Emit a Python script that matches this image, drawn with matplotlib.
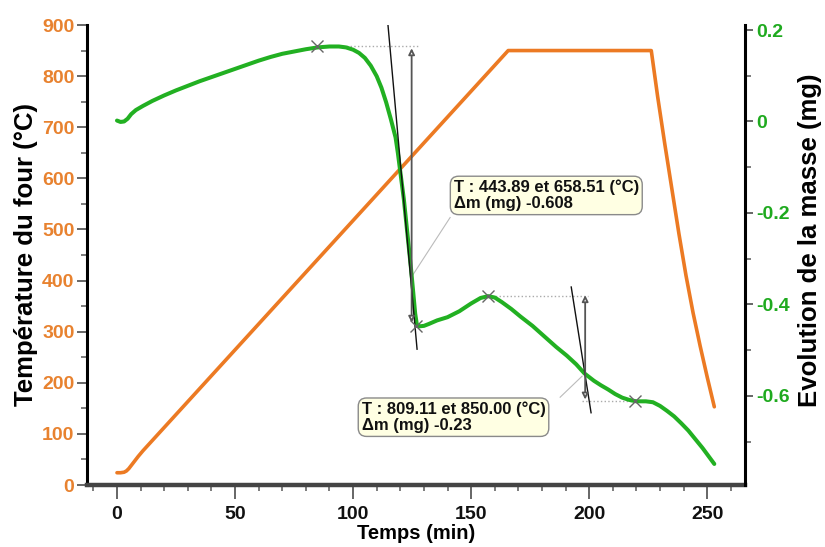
import matplotlib
matplotlib.use("Agg")
import matplotlib.pyplot as plt
from matplotlib.ticker import MultipleLocator

plt.rcParams['font.family'] = ['Liberation Sans', 'DejaVu Sans']
plt.rcParams['font.weight'] = 'bold'

# Temperature (furnace) curve
temp_t = [0, 1.5, 3, 4, 5, 6, 7.5, 9, 11, 165.7, 226.3, 229, 232, 235, 238, 241, 244,
          247, 250, 253]
temp_T = [24, 24, 25, 27.5, 32, 38, 47, 56, 67, 850, 850, 760, 668, 580, 492, 410, 337,
          272, 211, 153]

# Mass evolution curve
mass_t = [0, 1.5, 3, 4.5, 6, 8, 11, 15, 20, 25, 30, 35, 40, 45, 50, 55, 60, 65, 70, 75,
          80, 85, 90, 94, 97, 100, 102.5, 105, 107.5, 110, 112, 114, 116, 118, 119, 120,
          121.5, 123, 124.5, 125.5, 126.3, 127, 128, 130, 132, 135.6, 140, 145, 150, 154,
          157.2, 160, 163, 167, 171, 176, 181, 186, 190.5, 194.5, 198, 202, 205, 208,
          211, 214, 217, 220, 224, 227, 230, 233, 236, 239, 242, 245, 248, 251, 253]
mass_m = [0.002, -0.001, 0.0, 0.006, 0.016, 0.025, 0.034, 0.045, 0.057, 0.068, 0.078,
          0.088, 0.097, 0.106, 0.115, 0.124, 0.133, 0.141, 0.148, 0.153, 0.158, 0.162,
          0.164, 0.164, 0.162, 0.157, 0.150, 0.139, 0.122, 0.099, 0.074, 0.042, 0.005,
          -0.035, -0.07, -0.11, -0.17, -0.245, -0.32, -0.375, -0.42, -0.444, -0.448,
          -0.447, -0.443, -0.435, -0.428, -0.415, -0.398, -0.386, -0.382, -0.385, -0.395,
          -0.41, -0.427, -0.447, -0.47, -0.493, -0.512, -0.531, -0.551, -0.567, -0.577,
          -0.586, -0.596, -0.604, -0.609, -0.612, -0.612, -0.614, -0.622, -0.633, -0.645,
          -0.66, -0.676, -0.695, -0.714, -0.735, -0.749]

x_ticks = [0, 50, 100, 150, 200, 250]
left_ticks = [0, 100, 200, 300, 400, 500, 600, 700, 800, 900]
right_ticks = [-0.6, -0.4, -0.2, 0, 0.2]
right_labels = ['-0.6', '-0.4', '-0.2', '0', '0.2']

# Step annotations (mass axis coords)
tangent1 = ([114.8, 127.1], [0.21, -0.498])
arrow1 = (124.8, 0.16, -0.44)
cross1 = [(84.7, 0.164), (126.8, -0.447)]
dotted1 = ([84.7, 127.5], [0.164, 0.164])
conn1 = ([125.0, 141.1], [-0.338, -0.21])
label1 = "T : 443.89 et 658.51 (°C)\nΔm (mg) -0.608"
label1_xy = (142.6, -0.127)

tangent2 = ([192.4, 200.8], [-0.362, -0.637])
arrow2 = (198.3, -0.38, -0.608)
cross2 = [(157.2, -0.382), (219.6, -0.612)]
dotted2a = ([157.2, 199.5], [-0.382, -0.382])
dotted2b = ([197.0, 219.6], [-0.612, -0.612])
conn2 = ([197.0, 187.7], [-0.557, -0.603])
label2 = "T : 809.11 et 850.00 (°C)\nΔm (mg) -0.23"
label2_xy = (103.6, -0.612)

orange = '#EC7A23'
orange_lbl = '#E8822F'
green = '#22B022'
green_lbl = '#1FAA1F'

fig = plt.figure(figsize=(8.25, 5.47), dpi=100)
ax1 = fig.add_axes([87/825, 1-485/547, (745-87)/825, (485-25)/547])
ax2 = ax1.twinx()

ax1.plot(temp_t, temp_T, color=orange, lw=2.6, solid_capstyle='round',
         solid_joinstyle='round', zorder=3)
ax2.plot(mass_t, mass_m, color=green, lw=2.9, solid_capstyle='round',
         solid_joinstyle='round', zorder=3)

ax1.set_xlim(-12.7, 266)
ax1.set_ylim(0, 900)
ax2.set_ylim(-0.795, 0.211)

ax1.set_xticks(x_ticks)
ax1.xaxis.set_minor_locator(MultipleLocator(10))
ax1.set_yticks(left_ticks)
ax1.yaxis.set_minor_locator(MultipleLocator(50))
ax2.set_yticks(right_ticks)
ax2.set_yticklabels(right_labels)
ax2.yaxis.set_minor_locator(MultipleLocator(0.1))

ax1.spines['top'].set_visible(False)
ax2.spines['top'].set_visible(False)
ax1.spines['left'].set_linewidth(2.2)
ax1.spines['bottom'].set_linewidth(3.2)
ax1.spines['bottom'].set_color('#444444')
ax2.spines['right'].set_linewidth(2.2)
ax2.spines['left'].set_visible(False)
ax2.spines['bottom'].set_visible(False)
ax1.spines['right'].set_visible(False)

ax1.tick_params(axis='x', which='major', length=10, width=1.4, color='#666666',
                labelsize=14, labelcolor='#111111', pad=5)
ax1.tick_params(axis='x', which='minor', length=4, width=1.2, color='#666666')
ax1.tick_params(axis='y', which='major', length=7, width=1.4, color='#666666',
                labelsize=14, labelcolor=orange_lbl, pad=2)
ax1.tick_params(axis='y', which='minor', length=4, width=1.2, color='#666666')
ax2.tick_params(axis='y', which='major', length=6, width=1.4, color='#666666',
                labelsize=14, labelcolor=green_lbl, pad=2)
ax2.tick_params(axis='y', which='minor', length=4, width=1.2, color='#666666')
for lab in ax1.get_xticklabels() + ax1.get_yticklabels() + ax2.get_yticklabels():
    lab.set_fontweight('bold')

ax1.set_xlabel('Temps (min)', fontsize=14.5, fontweight='bold', labelpad=1)
ax1.set_ylabel('Température du four (°C)', fontsize=18.5, fontweight='bold', labelpad=3)
ax2.set_ylabel('Evolution de la masse (mg)', fontsize=18.5, fontweight='bold')
ax2.yaxis.set_label_coords(1.081, 0.533)

# annotations
def draw_step(tangent, arrow, crosses, dotted_list, conn, label, label_xy):
    ax2.plot(tangent[0], tangent[1], color='#111111', lw=1.0, zorder=4)
    for d in dotted_list:
        ax2.plot(d[0], d[1], color='#aaaaaa', lw=1.0, ls=':', zorder=2)
    ax2.plot(conn[0], conn[1], color='#bbbbbb', lw=0.8, zorder=2)
    ax2.annotate('', xy=(arrow[0], arrow[1]), xytext=(arrow[0], arrow[2]),
                 arrowprops=dict(arrowstyle='<|-|>', color='#555555', lw=1.3,
                                 fc='white', mutation_scale=9, shrinkA=0, shrinkB=0),
                 zorder=4)
    for cx, cy in crosses:
        ax2.plot(cx, cy, marker='x', color='#666666', ms=8, mew=1.0, zorder=5)
    ax2.text(label_xy[0], label_xy[1], label,
             fontsize=12, fontweight='bold', color='#111111', va='top', ha='left',
             linespacing=1.1,
             bbox=dict(boxstyle='round,pad=0.2,rounding_size=0.5', fc='#FFFFE3',
                       ec='#8a8a8a', lw=1.0),
             zorder=6)

draw_step(tangent1, arrow1, cross1, [dotted1], conn1, label1, label1_xy)
draw_step(tangent2, arrow2, cross2, [dotted2a, dotted2b], conn2, label2, label2_xy)

fig.savefig('out.png', dpi=100)
